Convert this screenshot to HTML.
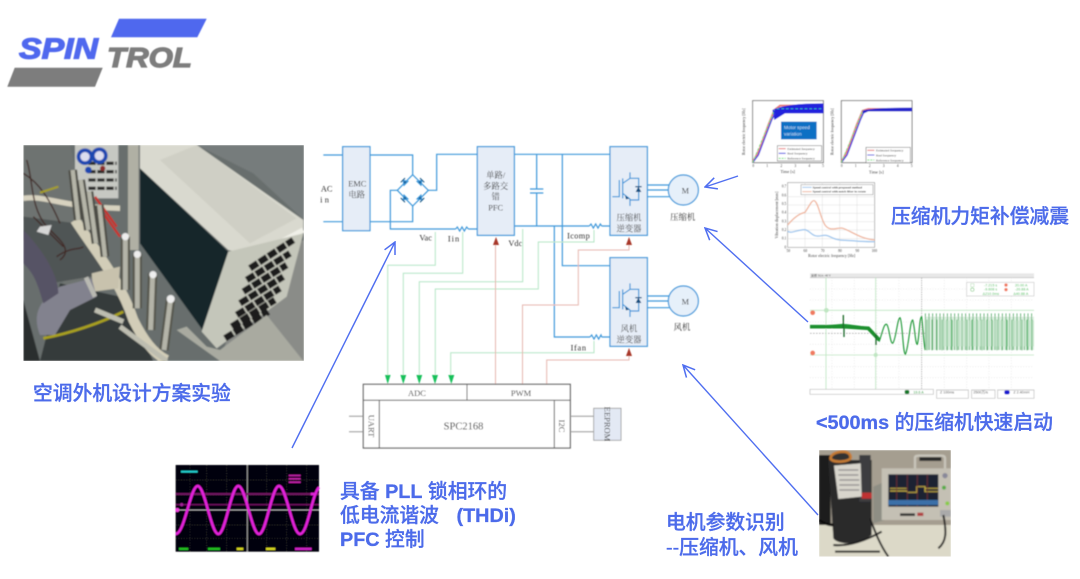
<!DOCTYPE html>
<html lang="zh"><head><meta charset="utf-8"><title>SPINTROL</title>
<style>
html,body{margin:0;padding:0;background:#fff;width:1080px;height:579px;overflow:hidden}
svg{display:block}
.t{font-family:"Liberation Serif","Noto Serif CJK SC",serif;fill:#333;font-size:25px;text-anchor:middle}
.h{font-family:"Liberation Sans","Noto Sans CJK SC",sans-serif;font-weight:500;font-size:19.8px;fill:#4c6bea;stroke:#4c6bea;stroke-width:.3}
.hb{font-weight:700}
.c{font-family:"Liberation Serif",serif;fill:#444}
</style></head><body>
<svg width="1080" height="579" viewBox="0 0 1080 579" xmlns="http://www.w3.org/2000/svg">
<defs>
<filter id="b1" x="-5%" y="-5%" width="110%" height="110%"><feGaussianBlur stdDeviation="0.4"/></filter>
<filter id="b4" x="-5%" y="-5%" width="110%" height="110%"><feGaussianBlur stdDeviation="1.5"/></filter>
<filter id="b2" x="-5%" y="-5%" width="110%" height="110%"><feGaussianBlur stdDeviation="2.4"/></filter>
<filter id="b3" x="-5%" y="-5%" width="110%" height="110%"><feGaussianBlur stdDeviation="2.6"/></filter>
<clipPath id="cA"><rect x="10" y="15" width="842" height="648"/></clipPath>
<clipPath id="cC"><rect x="27" y="15" width="396" height="320"/></clipPath>
<marker id="ar" viewBox="0 0 12 12" refX="11" refY="6" markerWidth="14" markerHeight="14" markerUnits="userSpaceOnUse" orient="auto"><path d="M1 1 L11 6 L1 11" fill="none" stroke="#4f6ef0" stroke-width="1.3"/></marker>
<g id="igbt" fill="none" stroke="#3f98da" stroke-width="3.6">
<path d="M907 200H928V150M938 145V205M938 160L960 145V127M960 145H986V210H960M938 190L960 207V228"/>
<path d="M977 186H994L985 170Z" fill="#17507f" stroke="none"/><path d="M976 170H995" stroke="#17507f"/>
<path d="M945 196L958 206L948 208Z" fill="#17507f" stroke="none"/>
</g>
<g id="dio"><path d="M-8 4L8 4L0 -8Z" fill="#17507f"/><path d="M-9 -9H9" stroke="#17507f" stroke-width="3"/></g>
</defs>
<rect width="1080" height="579" fill="#fff"/>

<!-- logo -->
<g filter="url(#b1)">
<path d="M119 18.7H206.7L197.3 37.3H111Z" fill="#5068ee"/>
<path d="M14.7 67.7H102.7L95 86.7H7.3Z" fill="#7d7d7d"/>
<text x="19" y="58.5" font-family="Liberation Sans,sans-serif" font-weight="700" font-style="italic" font-size="29" fill="#5068ee" stroke="#5068ee" stroke-width="1.2" textLength="79" lengthAdjust="spacingAndGlyphs">SPIN</text>
<text x="107" y="67" font-family="Liberation Sans,sans-serif" font-weight="700" font-style="italic" font-size="28" fill="#7d7d7d" stroke="#7d7d7d" stroke-width="1.2" textLength="85" lengthAdjust="spacingAndGlyphs">TROL</text>
</g>

<!-- AC photo -->
<g transform="translate(20,140) scale(.33333)">
<g clip-path="url(#cA)"><g filter="url(#b2)">
<rect x="10" y="15" width="842" height="648" fill="#686e6d"/>
<path d="M530 15H852V240L700 100Z" fill="#767c7b"/>
<path d="M700 350L852 300V663H600Z" fill="#8a8c88"/>
<path d="M10 15H150L200 260L290 420L150 480L80 300L10 240Z" fill="#6e7371"/>
<path d="M10 230L170 250L270 400L90 430L10 300Z" fill="#4f5555"/>
<path d="M120 430L300 470L400 663H60Z" fill="#363b3b"/>
<path d="M10 480L60 663H10Z" fill="#2a2e2e"/>
<rect x="165" y="15" width="130" height="160" fill="#c6c8c2"/>
<path d="M205 70H290M205 95H290M205 120H290M205 145H290" stroke="#2b2b2b" stroke-width="10" stroke-dasharray="22 5"/>
<circle cx="195" cy="50" r="25" fill="#1c47b0"/><circle cx="238" cy="47" r="25" fill="#1c47b0"/>
<circle cx="195" cy="50" r="14" fill="#dde"/><circle cx="238" cy="47" r="14" fill="#dde"/>
<circle cx="205" cy="90" r="10" fill="#1c47b0"/><circle cx="248" cy="85" r="8" fill="#8a2a2a"/>
<path d="M10 175C80 165 110 200 300 205" stroke="#d7d2bf" stroke-width="16" fill="none"/>
<path d="M20 60C40 120 30 200 80 260C120 300 160 330 120 360M40 230L130 320M10 100C60 130 90 180 120 250M110 350C150 320 180 330 190 320" stroke="#3f2723" stroke-width="4" fill="none"/>
<path d="M60 158L115 140" stroke="#a8a01e" stroke-width="6"/>
<path d="M60 260L95 255L85 285L50 275Z" fill="#d5d5d5"/>
<path d="M250 220L300 290M225 170L290 260" stroke="#c9302c" stroke-width="7" fill="none"/>
<path d="M360 15H530L850 240V268L700 350L625 330L360 85Z" fill="#d9d9cf"/>
<path d="M530 15L830 235L690 310L420 60Z" fill="#cfcfc5"/>
<path d="M700 350L850 270" stroke="#f0f0e8" stroke-width="16"/>
<path d="M360 85L625 335L555 580L360 310Z" fill="#18262a"/>
<path d="M625 335L850 280L800 470L590 625L545 575Z" fill="#c4c6ba"/>
<path d="M690 385L820 300M680 420L810 340M670 455L800 375M660 490L790 410M650 525L780 445M635 560L765 480M615 595L745 515" stroke="#1c1c1c" stroke-width="20" stroke-dasharray="28 5"/>
<path d="M165 240C230 340 300 420 340 540C370 600 400 640 440 660" stroke="#d2cdb8" stroke-width="30" fill="none"/>
<path d="M215 400L300 380L295 445L220 455Z" fill="#c8c2ad"/>
<path d="M60 585C35 520 60 480 120 440L215 415L230 470L150 510L105 585Z" fill="#82828e"/>
<path d="M198 412L225 470" stroke="#b9b9b2" stroke-width="14"/>
<path d="M10 270C60 320 115 400 115 460L70 490C50 420 40 400 10 370Z" fill="#565265"/>
<path d="M70 595C150 580 240 550 310 515" stroke="#aaa21c" stroke-width="8" fill="none"/>
<path d="M340 15V330" stroke="#b0b0a4" stroke-width="32"/>
<path d="M158 90L175 240M182 120L205 270M207 155L228 310M238 195L255 350" stroke="#4c4c44" stroke-width="26" fill="none"/>
<path d="M158 90L175 240M182 120L205 270M207 155L228 310M238 195L255 350" stroke="#b5b5a8" stroke-width="13" fill="none"/>
<path d="M316 290V450M352 340V505M398 400L392 570M452 475L432 630" stroke="#55554c" stroke-width="28" fill="none"/>
<path d="M316 290V450M352 340V505M398 400L392 570M452 475L432 630" stroke="#b4b4a8" stroke-width="15" fill="none"/>
<circle cx="316" cy="290" r="11" fill="#eee"/><circle cx="352" cy="343" r="11" fill="#eee"/><circle cx="399" cy="404" r="11" fill="#eee"/><circle cx="452" cy="477" r="12" fill="#eee"/>
<path d="M470 570L600 663H850L740 525L600 630L560 620L500 560Z" fill="#a9aaa0"/>
<path d="M300 560L440 663M225 510L310 545" stroke="#bdbdb0" stroke-width="15"/>
</g></g></g>

<!-- circuit -->
<g filter="url(#b1)">
<g transform="translate(310,130) scale(.33333)" fill="none" stroke="#3f98da" stroke-width="3.6">
<path d="M40 75H98M40 275H98M180 75H308V134M180 275H308V228M262 181H241V297H437M355 181H380V73H502M613 73H900M613 288H838M680 73V177M680 189V288M660 177H700M660 189H700M757 73V407H900M733 288V621H840M875 288H900M875 621H900M475 297H502"/>
<path d="M262 181L308 134L355 181L308 228Z"/>
<path d="M437 297L442 291L449 303L456 291L463 303L470 291L475 297M838 288L843 282L850 294L857 282L864 294L871 282L875 288M840 621L845 615L852 627L859 615L866 627L873 615L875 621"/>
<rect x="98" y="50" width="82" height="252" fill="#e6edf7"/>
<rect x="502" y="50" width="111" height="266" fill="#e6edf7"/>
<rect x="900" y="50" width="112" height="266" fill="#e6edf7"/>
<rect x="900" y="383" width="112" height="266" fill="#e6edf7"/>
<path d="M1012 165H1078M1012 180H1075M1012 200H1078M1012 498H1078M1012 513H1075M1012 533H1078"/>
<circle cx="1120" cy="180" r="45" fill="#e6f0fa"/><circle cx="1120" cy="513" r="45" fill="#e6f0fa"/>
<use href="#igbt"/><use href="#igbt" y="333"/>
<use href="#dio" transform="translate(285,157) rotate(-45)"/>
<use href="#dio" transform="translate(330,157) rotate(45)"/>
<use href="#dio" transform="translate(285,204) rotate(-135)"/>
<use href="#dio" transform="translate(330,204) rotate(135)"/>
<text class="t" stroke="none" x="50" y="184">AC</text><text class="t" stroke="none" x="47" y="217" letter-spacing="7">in</text>
<text class="t" stroke="none" x="142" y="170">EMC</text><text class="t" stroke="none" x="140" y="202">电路</text>
<text class="t" stroke="none" x="557" y="144">单路/</text><text class="t" stroke="none" x="557" y="177">多路交</text><text class="t" stroke="none" x="557" y="209">错</text><text class="t" stroke="none" x="557" y="241">PFC</text>
<text class="t" stroke="none" x="957" y="272">压缩机</text><text class="t" stroke="none" x="957" y="305">逆变器</text>
<text class="t" stroke="none" x="957" y="605">风机</text><text class="t" stroke="none" x="957" y="638">逆变器</text>
<text class="t" stroke="none" x="1126" y="191">M</text><text class="t" stroke="none" x="1126" y="524">M</text>
<text class="t" stroke="none" x="1118" y="270">压缩机</text><text class="t" stroke="none" x="1116" y="600">风机</text>
<text class="t" stroke="none" x="347" y="332">Vac</text><text class="t" stroke="none" x="432" y="334" letter-spacing="3">Iin</text><text class="t" stroke="none" x="616" y="348">Vdc</text><text class="t" stroke="none" x="806" y="325" letter-spacing="1">Icomp</text><text class="t" stroke="none" x="806" y="662" letter-spacing="2">Ifan</text>
</g>

<g fill="none" stroke="#b6e6c6" stroke-width="1">
<path d="M435.3 232V265.3H387.7V376M462.7 232V273.3H403.3V376M522.7 229V281.7H419.3V376M594 230V242H538.3V289H435.3V376M594 341V352.7H450.7V376"/>
</g>
<g fill="none" stroke="#e6b8b0" stroke-width="1">
<path d="M495.5 384V240M522.5 384V305H578.3V250H629V240M546.7 384V360H629V350"/>
</g>
<path d="M385 375H390.6L387.7 384ZM400.4 375H406.2L403.3 384ZM416.4 375H422.2L419.3 384ZM432 375H438L435 384ZM448.3 375H454.3L451.3 384Z" fill="#12c05a"/>
<path d="M493 245H499L496 237ZM626 245H632L629 237ZM626 356H632L629 348Z" fill="#a8392c"/>

<g fill="none" stroke="#666" stroke-width="1">
<rect x="363.3" y="384.3" width="207" height="63.7" fill="#fff" stroke-width="1.2"/>
<path d="M363.3 400.3H570.3M467 384.3V400.3M379.3 400.3V448M554.3 400.3V448"/>
<path d="M349 416.3H363M349 431.7H363M570.3 416.3H593.5M570.3 431.7H593.5" stroke="#999"/>
</g>
<rect x="593.7" y="408.3" width="27.3" height="32" fill="#e3e9f4" stroke="#999" stroke-width=".8"/>
<text class="t" x="417" y="396" style="font-size:8.5px">ADC</text>
<text class="t" x="521" y="396" style="font-size:8.5px">PWM</text>
<text class="t" x="463.5" y="429.5" style="font-size:10.5px">SPC2168</text>
<text class="t" transform="translate(368.7,426) rotate(90)" style="font-size:8.5px">UART</text>
<text class="t" transform="translate(559,426) rotate(90)" style="font-size:8.5px">I2C</text>
<text class="t" transform="translate(604.5,424) rotate(90)" style="font-size:8.5px">EEPROM</text>
</g>

<!-- top charts -->
<g transform="translate(735,90) scale(.33333)" filter="url(#b4)">
<rect x="53" y="32" width="212" height="186" fill="#fff" stroke="#666" stroke-width="2.5"/>
<rect x="319" y="32" width="212" height="186" fill="#fff" stroke="#666" stroke-width="2.5"/>
<path d="M53 218L75 175L100 105L118 60L135 47H265" fill="none" stroke="#e87a7a" stroke-width="6"/>
<path d="M112 60Q150 40 265 40V70H150L118 90Z" fill="#2222dd"/>
<path d="M53 218L70 195L110 90L120 70" fill="none" stroke="#3a3ae0" stroke-width="4"/>
<path d="M53 218L118 60" fill="none" stroke="#6fe07a" stroke-width="3" stroke-dasharray="8 5"/>
<path d="M125 56H265" fill="none" stroke="#35e0a0" stroke-width="2" stroke-dasharray="8 6"/>
<rect x="138" y="95" width="107" height="53" fill="#0a6fc4"/>
<text x="147" y="117" font-family="Liberation Sans,sans-serif" font-size="14" fill="#cfe4f8">Motor speed</text>
<text x="147" y="137" font-family="Liberation Sans,sans-serif" font-size="14" fill="#cfe4f8">variation</text>
<rect x="127" y="167" width="133" height="46" fill="#fff" stroke="#555" stroke-width="1.5"/>
<path d="M131 176H152" stroke="#e87a7a" stroke-width="3"/><path d="M131 190H152" stroke="#4a4ae0" stroke-width="3"/><path d="M131 205H152" stroke="#6fe07a" stroke-width="3" stroke-dasharray="6 3"/>
<text class="c" font-size="10" x="157" y="180">Estimated frequency</text><text class="c" font-size="10" x="157" y="194">Real frequency</text><text class="c" font-size="10" x="157" y="209">Reference frequency</text>
<path d="M319 218L340 175L365 105L383 62L400 57H531" fill="none" stroke="#e87a7a" stroke-width="6"/>
<path d="M383 62Q410 53 531 53V64H400L383 72Z" fill="#2222cc"/>
<path d="M319 218L336 195L376 90L385 70" fill="none" stroke="#3a3ae0" stroke-width="4"/>
<path d="M319 218L384 60" fill="none" stroke="#6fe07a" stroke-width="3" stroke-dasharray="8 5"/>
<rect x="393" y="172" width="133" height="46" fill="#fff" stroke="#555" stroke-width="1.5"/>
<path d="M397 181H418" stroke="#e87a7a" stroke-width="3"/><path d="M397 195H418" stroke="#4a4ae0" stroke-width="3"/><path d="M397 210H418" stroke="#6fe07a" stroke-width="3" stroke-dasharray="6 3"/>
<text class="c" font-size="10" x="423" y="185">Estimated frequency</text><text class="c" font-size="10" x="423" y="199">Real frequency</text><text class="c" font-size="10" x="423" y="214">Reference frequency</text>
<g text-anchor="middle"><text class="c" font-size="11" x="55" y="231">0</text><text class="c" font-size="11" x="97" y="231">1</text><text class="c" font-size="11" x="139" y="231">2</text><text class="c" font-size="11" x="181" y="231">3</text><text class="c" font-size="11" x="223" y="231">4</text><text class="c" font-size="11" x="264" y="231">5</text><text class="c" font-size="11" x="320" y="231">0</text><text class="c" font-size="11" x="362" y="231">1</text><text class="c" font-size="11" x="404" y="231">2</text><text class="c" font-size="11" x="446" y="231">3</text><text class="c" font-size="11" x="488" y="231">4</text><text class="c" font-size="11" x="530" y="231">5</text><text class="c" x="158" y="249" font-size="13">Time [s]</text><text class="c" x="424" y="251" font-size="13">Time [s]</text></g>
<text class="c" font-size="12" text-anchor="middle" transform="translate(30,125) rotate(-90)">Rotor electric frequency [Hz]</text>
<text class="c" font-size="12" text-anchor="middle" transform="translate(296,125) rotate(-90)">Rotor electric frequency [Hz]</text>
<!-- vibration -->
<rect x="158" y="278" width="261" height="194" fill="#fff" stroke="#999" stroke-width="2"/>
<path d="M158 320H419M158 345H419M158 370H419M158 395H419M158 420H419M158 446H419M210 278V472M262 278V472M314 278V472M366 278V472" stroke="#ddd" stroke-width="1.5"/>
<path d="M158 405C175 385 190 372 210 367C225 345 230 330 238 332C250 338 255 380 270 405C285 425 300 414 320 414C345 420 370 445 419 450" fill="none" stroke="#f0b8a0" stroke-width="4"/>
<path d="M158 424C170 432 190 418 210 419C225 422 230 438 245 438C260 440 265 432 280 438C295 445 305 451 330 451C360 452 380 456 419 455" fill="none" stroke="#a0c8ee" stroke-width="4"/>
<rect x="198" y="284" width="216" height="30" fill="#fff" stroke="#888" stroke-width="1.5"/>
<path d="M202 292H230" stroke="#a0c8ee" stroke-width="3"/><path d="M202 305H230" stroke="#f0b8a0" stroke-width="3"/>
<text class="c" font-size="9.5" x="233" y="295" font-weight="700">Speed control with proposed method</text>
<text class="c" font-size="9.5" x="233" y="308" font-weight="700">Speed control with notch filter in rotate</text>
<text class="c" font-size="12" text-anchor="middle" x="290" y="501">Rotor electric frequency [Hz]</text>
<text class="c" font-size="12" text-anchor="middle" transform="translate(129,375) rotate(-90)">Vibration displacement [mm]</text>
<g text-anchor="middle"><text class="c" font-size="11" x="160" y="486">50</text><text class="c" font-size="11" x="211" y="486">60</text><text class="c" font-size="11" x="263" y="486">70</text><text class="c" font-size="11" x="315" y="486">80</text><text class="c" font-size="11" x="367" y="486">90</text><text class="c" font-size="11" x="418" y="486">100</text></g>
<g text-anchor="end"><text class="c" font-size="11" x="154" y="293">0.7</text><text class="c" font-size="11" x="154" y="319">0.6</text><text class="c" font-size="11" x="154" y="345">0.5</text><text class="c" font-size="11" x="154" y="371">0.4</text><text class="c" font-size="11" x="154" y="397">0.3</text><text class="c" font-size="11" x="154" y="423">0.2</text><text class="c" font-size="11" x="154" y="449">0.1</text><text class="c" font-size="11" x="154" y="475">0</text></g>
</g>

<!-- oscilloscope -->
<g transform="translate(800,265) scale(.33333)" filter="url(#b4)">
<rect x="30" y="25" width="672" height="14" fill="#e8e8e8"/>
<text x="33" y="35" class="c" font-size="9">采样 5G/s  -40 V</text>
<path d="M30 38H702" stroke="#bbb" stroke-width="2"/>
<path d="M30 72H702M30 105H702M30 171H702M30 238H702M30 305H702M30 338H702M96 38V372M163 38V372M230 38V372M297 38V372M433 38V372M500 38V372M567 38V372M634 38V372" stroke="#ccc" stroke-width="1.5" stroke-dasharray="2 6"/>
<path d="M30 205H702" stroke="#999" stroke-width="2" stroke-dasharray="5 4"/>
<path d="M30 136H702M30 270H702M78 38V372M227 38V372" stroke="#bfe6c2" stroke-width="2.5"/>
<path d="M365 38V372" stroke="#999" stroke-width="2" stroke-dasharray="4 3"/>
<path d="M375 205H702" stroke="#dcefe0" stroke-width="100"/>
<path d="M375 200H702" stroke="#2f9a48" stroke-width="110" stroke-dasharray="2 9"/>
<path d="M380 210H702" stroke="#3aa552" stroke-width="92" stroke-dasharray="2 13"/>
<path d="M430 205H702" stroke="#a8d4b0" stroke-width="78" stroke-dasharray="1.5 4"/>
<path d="M30 185C70 183 110 180 130 178C160 182 190 183 205 190L228 218L238 228C248 200 252 175 260 178C268 185 270 235 278 235C288 225 292 160 300 158C308 170 308 262 316 268C326 250 330 165 338 165C344 180 346 240 352 238C358 220 358 155 365 155C368 175 372 250 376 255" fill="none" stroke="#229a3a" stroke-width="3.5"/>
<path d="M30 185H130L205 190L238 225" fill="none" stroke="#1f8f2f" stroke-width="11"/>
<path d="M130 150V190M132 190V216M228 208V240" stroke="#1d6b2c" stroke-width="4"/>
<circle cx="79" cy="136" r="7" fill="#bfe6c2"/><circle cx="227" cy="270" r="6" fill="#bfe6c2"/>
<circle cx="38" cy="143" r="7" fill="#f07a60"/><circle cx="38" cy="264" r="7" fill="#f07a60"/>
<rect x="500" y="52" width="202" height="41" fill="#fff" stroke="#ccc" stroke-width="2"/>
<g fill="#50c060" font-size="11" font-family="Liberation Sans,sans-serif"><text x="552" y="64">-7.215 s</text><text x="552" y="76">-9.608 s</text><text x="548" y="90">Δ210.0ms</text><text x="645" y="64">20.00 A</text><text x="645" y="76">-20.88 A</text><text x="640" y="90">Δ40.88 A</text></g>
<circle cx="618" cy="60" r="5" fill="#f07a60"/><circle cx="618" cy="74" r="5" fill="#f07a60"/><rect x="512" y="56" width="10" height="9" fill="none" stroke="#8c8"/><circle cx="517" cy="74" r="5" fill="none" stroke="#8c8" stroke-width="2"/>
<path d="M30 373H400V388H30ZM410 375H505V400H410ZM515 375H585V400H515ZM593 375H702V400H593Z" fill="#fff" stroke="#bbb" stroke-width="2"/>
<rect x="314" y="375" width="14" height="12" rx="5" fill="#167a2c"/><rect x="613" y="376" width="16" height="12" rx="5" fill="#1515d0"/>
<text x="340" y="386" font-size="11" fill="#30a040" font-family="Liberation Sans,sans-serif">19.6 A</text>
<text x="420" y="386" font-size="11" fill="#555" font-family="Liberation Sans,sans-serif">Z 100ms</text>
<text x="520" y="386" font-size="11" fill="#555" font-family="Liberation Sans,sans-serif">2500万/s</text>
<text x="640" y="386" font-size="11" fill="#555" font-family="Liberation Sans,sans-serif">Z 2.40mH</text>
</g>

<!-- PLL scope -->
<g transform="translate(170,460) scale(.33333)" filter="url(#b4)">
<rect x="17" y="15" width="430" height="260" fill="#060608"/>
<path d="M60 15V275M110 15V275M170 15V275M290 15V275M350 15V275M410 15V275M17 60H447M17 105H447M17 195H447M17 235H447" stroke="#333" stroke-width="2" stroke-dasharray="3 5"/>
<path d="M232 15V275M17 150H447" stroke="#a8a8a8" stroke-width="3"/>
<path d="M17 102H447" stroke="#6e1560" stroke-width="6"/><path d="M17 134H447" stroke="#6e1560" stroke-width="4"/>
<path d="M17 222C44 222 61 78 83 78S123 222 145 222S183 78 205 78S245 222 267 222S305 78 327 78S367 222 390 222S425 105 447 82" fill="none" stroke="#e020d8" stroke-width="8"/>
<rect x="33" y="32" width="50" height="6" fill="#20d0d0"/>
<rect x="356" y="44" width="36" height="5" fill="#c020a8"/><rect x="356" y="54" width="36" height="5" fill="#c020a8"/><rect x="356" y="64" width="36" height="5" fill="#c020a8"/>
<rect x="27" y="263" width="28" height="7" fill="#20c020"/><rect x="114" y="263" width="36" height="7" fill="#20c020"/><rect x="200" y="263" width="20" height="7" fill="#d8d820"/><rect x="288" y="263" width="28" height="7" fill="#d8d820"/><rect x="375" y="263" width="50" height="7" fill="#d020c8"/>
<circle cx="22" cy="150" r="6" fill="#f040e0"/><circle cx="35" cy="134" r="5" fill="#a02098"/><rect x="422" y="98" width="14" height="8" fill="#e020d8"/>
</g>

<!-- compressor photo -->
<g transform="translate(810,445) scale(.33333)">
<g clip-path="url(#cC)"><g filter="url(#b3)">
<rect x="27" y="15" width="396" height="320" fill="#a59e90"/>
<rect x="27" y="240" width="396" height="95" fill="#dcd9c8"/>
<rect x="27" y="30" width="35" height="210" fill="#1d1c1c"/>
<path d="M190 125L225 110V225L190 235Z" fill="#8e8e84"/>
<path d="M315 72V38Q315 32 325 32H395Q405 32 405 40V72" fill="none" stroke="#c9c6bb" stroke-width="7"/>
<rect x="328" y="36" width="66" height="12" fill="#2c2b2a"/>
<rect x="215" y="70" width="208" height="155" fill="#c4c0b4"/>
<rect x="235" y="88" width="150" height="97" fill="#1d2230"/>
<path d="M240 130H290M345 130H385M240 138H290L292 142H320V125H345V140H385" fill="none" stroke="#c8b040" stroke-width="3"/>
<path d="M260 88V185M292 88V185M322 88V185M352 88V185" stroke="#7a3030" stroke-width="2"/>
<rect x="235" y="165" width="150" height="15" fill="#3a70a8"/>
<rect x="270" y="205" width="45" height="8" fill="#333"/><rect x="322" y="203" width="18" height="10" fill="#b04040"/>
<circle cx="405" cy="92" r="8" fill="#889"/><circle cx="402" cy="128" r="6" fill="#5a4"/><circle cx="412" cy="175" r="6" fill="#8c4"/><rect x="390" y="195" width="33" height="20" fill="#aaa"/>
<path d="M55 45H185V270Q150 295 120 295Q80 295 70 280Z" fill="#2a2a2c"/>
<path d="M165 30V170" stroke="#3d3d3f" stroke-width="34"/>
<path d="M100 20C75 20 60 30 62 42C75 55 120 50 122 38C122 25 110 20 100 20Z" fill="#333" stroke="#c57a30" stroke-width="8"/>
<path d="M72 62L152 55L155 155L85 162Z" fill="#d8d5cc"/>
<path d="M85 75H145M85 90H145M88 105H148M88 120H148M88 135H148" stroke="#888" stroke-width="4"/>
<rect x="155" y="143" width="30" height="18" fill="#c03232"/>
<path d="M70 300C120 305 170 285 215 260M180 220C195 260 210 300 235 335M75 320H210M400 210C410 260 410 290 385 310" fill="none" stroke="#1d1d1d" stroke-width="6"/>
<path d="M27 225C45 235 55 240 70 240" stroke="#111" stroke-width="9" fill="none"/>
</g></g></g>

<!-- blue arrows -->
<g stroke="#4f6ef0" stroke-width="1.4" fill="none">
<path d="M292 448L395 242" marker-end="url(#ar)"/>
<path d="M808 322L705 228" marker-end="url(#ar)"/>
<path d="M738 176L705 187" marker-end="url(#ar)"/>
<path d="M818 515L683 365" marker-end="url(#ar)"/>
</g>

<!-- headings -->
<text class="h" x="891" y="223">压缩机力矩补偿减震</text>
<text class="h" x="816" y="429"><tspan class="hb">&lt;500ms</tspan> 的压缩机快速启动</text>
<text class="h" x="33" y="400">空调外机设计方案实验</text>
<text class="h" x="340" y="498">具备 <tspan class="hb">PLL</tspan> 锁相环的</text>
<text class="h" x="340" y="522">低电流谐波</text>
<text class="h hb" x="456.5" y="522">(THDi)</text>
<text class="h" x="340" y="546"><tspan class="hb">PFC</tspan> 控制</text>
<text class="h" x="666" y="529">电机参数识别</text>
<text class="h" x="666" y="554">--压缩机、风机</text>
</svg>
</body></html>
